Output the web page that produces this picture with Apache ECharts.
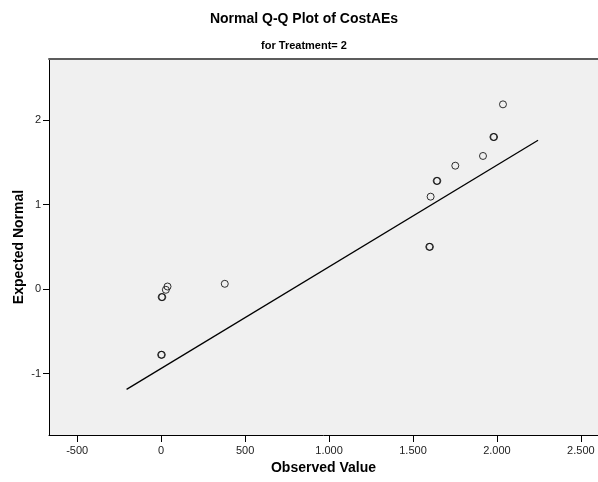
<!DOCTYPE html>
<html>
<head>
<meta charset="utf-8">
<script src="https://cdn.jsdelivr.net/npm/echarts@6/dist/echarts.min.js"></script>
<style>
  html, body { margin: 0; padding: 0; background: #ffffff; }
  #chart { width: 598px; height: 482px; }
</style>
</head>
<body>
<div id="chart"></div>
<script>
// Observed CostAEs values and their expected normal scores (Treatment = 2)
const observed = [0, 4, 3, 7, 28, 38, 379, 1597, 1601, 1605, 1641, 1645, 1752, 1917, 1979, 1983, 2036];
const expected = [-0.776, -0.776, -0.094, -0.094, -0.008, 0.031, 0.063, 0.500, 0.500, 1.093, 1.279, 1.279, 1.459, 1.574, 1.798, 1.798, 2.184];

// Normal reference line endpoints
const refLineX = [-206, 2245];
const refLineY = [-1.185, 1.759];

// Axis ticks
const xTicks = [-500, 0, 500, 1000, 1500, 2000, 2500];
const yTicks = [-1, 0, 1, 2];

const FONT = '"Liberation Sans", Arial, Helvetica, sans-serif';

function fmtThousands(v) {
  const s = String(Math.abs(v)).replace(/\B(?=(\d{3})+(?!\d))/g, '.');
  return (v < 0 ? '-' : '') + s;
}

const points = observed.map((x, i) => [x, expected[i]]);
const line = refLineX.map((x, i) => [x, refLineY[i]]);

const chart = echarts.init(document.getElementById('chart'), null, { renderer: 'canvas' });
chart.setOption({
  animation: false,
  backgroundColor: '#ffffff',
  graphic: [
    {
      type: 'text', x: 304, y: 19,
      style: { text: 'Normal Q-Q Plot of CostAEs', fill: '#000', font: 'bold 14px ' + FONT, textAlign: 'center', textVerticalAlign: 'middle' }
    },
    {
      type: 'text', x: 304, y: 46,
      style: { text: 'for Treatment= 2', fill: '#000', font: 'bold 11px ' + FONT, textAlign: 'center', textVerticalAlign: 'middle' }
    }
  ],
  grid: {
    left: 49, top: 59, right: 0, bottom: 47,
    outerBoundsMode: 'none', containLabel: false,
    show: true, backgroundColor: '#f0f0f0', borderWidth: 0
  },
  xAxis: [
    {
      type: 'value', min: -668, max: 2602, position: 'bottom',
      name: 'Observed Value', nameLocation: 'middle', nameGap: 26, nameMoveOverlap: false,
      nameTextStyle: { fontFamily: FONT, fontWeight: 'bold', fontSize: 14, color: '#000' },
      axisLine: { show: true, onZero: false, lineStyle: { color: '#000', width: 1 } },
      axisTick: { show: true, length: 7, customValues: xTicks, lineStyle: { color: '#000' } },
      axisLabel: { customValues: xTicks, formatter: v => fmtThousands(v), fontFamily: FONT, fontSize: 11, color: '#222', margin: 10 },
      splitLine: { show: false }
    },
    {
      type: 'value', min: -668, max: 2602, position: 'top',
      axisLine: { show: true, onZero: false, lineStyle: { color: '#5c5c5c', width: 2 } },
      axisTick: { show: false }, axisLabel: { show: false }, splitLine: { show: false }
    }
  ],
  yAxis: {
    type: 'value', min: -1.724, max: 2.72,
    name: 'Expected Normal', nameLocation: 'middle', nameGap: 23, nameMoveOverlap: false,
    nameTextStyle: { fontFamily: FONT, fontWeight: 'bold', fontSize: 14, color: '#000' },
    axisLine: { show: true, onZero: false, lineStyle: { color: '#000', width: 1 } },
    axisTick: { show: true, length: 6, customValues: yTicks, lineStyle: { color: '#000' } },
    axisLabel: { customValues: yTicks, fontFamily: FONT, fontSize: 11, color: '#222', margin: 8 },
    splitLine: { show: false }
  },
  series: [
    {
      type: 'line', data: line, xAxisIndex: 0, showSymbol: false, symbol: 'none',
      lineStyle: { color: '#000', width: 1.3 }, silent: true, z: 2
    },
    {
      type: 'scatter', data: points, xAxisIndex: 0, symbol: 'circle', symbolSize: 7,
      itemStyle: { color: 'rgba(0,0,0,0)', borderColor: '#000', borderWidth: 1 }, z: 3
    }
  ]
});
</script>
</body>
</html>
